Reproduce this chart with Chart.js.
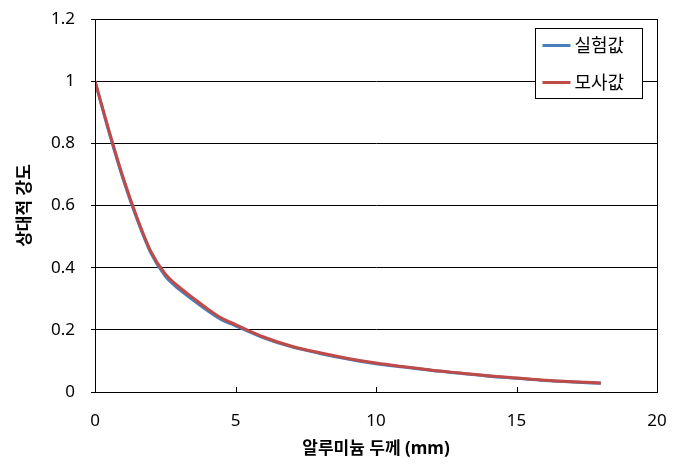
<!DOCTYPE html>
<html>
<head>
<meta charset="utf-8">
<script src="https://cdn.jsdelivr.net/npm/chart.js@4/dist/chart.umd.min.js"></script>
<style>
    body { margin: 0; background: #fff; }
    #wrap { width: 682px; height: 467px; }
</style>
</head>
<body>
<div id="wrap"><canvas id="chart_att"></canvas></div>
<script>
// 알루미늄 두께 (mm)
var thickness = [0, 0.5, 1, 1.5, 2, 2.5, 3, 3.5, 4, 4.5, 5, 6, 7, 8, 9, 10, 11, 12, 13, 14, 15, 16, 17, 18]
// 실험값
var measured = [1.0, 0.835, 0.685, 0.555, 0.445, 0.373, 0.33, 0.295, 0.262, 0.233, 0.213, 0.174, 0.145, 0.124, 0.106, 0.091, 0.08, 0.069, 0.06, 0.051, 0.044, 0.037, 0.032, 0.028]
// 모사값
var simulated = [1.0, 0.84, 0.69, 0.56, 0.45, 0.38, 0.337, 0.302, 0.268, 0.238, 0.217, 0.177, 0.147, 0.126, 0.108, 0.093, 0.081, 0.07, 0.061, 0.052, 0.045, 0.038, 0.033, 0.029]

var y_tick_labels = ['0', '0.2', '0.4', '0.6', '0.8', '1', '1.2']
var x_tick_labels = ['0', '5', '10', '15', '20']

var FONT = "'Noto Sans', 'Noto Sans CJK KR', sans-serif"

function to_points(xs, ys) {
    return xs.map((x, i) => {
        return { x: x, y: ys[i] }
    })
}

// plot frame, inward x ticks and the boxed legend
var frame_plugin = {
    id: 'frame',
    afterDraw: function (chart) {
        var ctx = chart.ctx
        var a = chart.chartArea
        var xs = chart.scales.x
        ctx.save()
        ctx.strokeStyle = '#000'
        ctx.lineWidth = 1
        ctx.strokeRect(Math.round(a.left) + 0.5, Math.round(a.top) + 0.5,
            Math.round(a.right - a.left), Math.round(a.bottom - a.top))
        xs.ticks.forEach((t) => {
            var px = Math.round(xs.getPixelForValue(t.value)) + 0.5
            ctx.beginPath()
            ctx.moveTo(px, a.bottom)
            ctx.lineTo(px, a.bottom - 5)
            ctx.stroke()
        })

        // legend
        var bw = 107, bh = 70
        var bx = Math.round(a.right - 15 - bw) + 0.5
        var by = Math.round(a.top + 9) + 0.5
        ctx.fillStyle = '#fff'
        ctx.fillRect(bx, by, bw, bh)
        ctx.strokeRect(bx, by, bw, bh)
        ctx.font = '18px ' + FONT
        ctx.textBaseline = 'middle'
        chart.data.datasets.forEach((ds, i) => {
            var ly = by + 17 + i * 37
            ctx.strokeStyle = ds.borderColor
            ctx.lineWidth = 3
            ctx.beginPath()
            ctx.moveTo(bx + 7, ly)
            ctx.lineTo(bx + 35, ly)
            ctx.stroke()
            ctx.fillStyle = '#000'
            ctx.fillText(ds.label, bx + 39, ly + 1)
        })
        ctx.restore()
    }
}

new Chart(document.getElementById('chart_att'), {
    type: 'scatter',
    data: {
        datasets: [
            {
                label: '실험값',
                data: to_points(thickness, measured),
                borderColor: '#4a7ebb',
                backgroundColor: '#4a7ebb',
                borderWidth: 3,
                showLine: true,
                pointRadius: 0,
                cubicInterpolationMode: 'monotone',
                order: 2
            },
            {
                label: '모사값',
                data: to_points(thickness, simulated),
                borderColor: '#be4b48',
                backgroundColor: '#be4b48',
                borderWidth: 3,
                showLine: true,
                pointRadius: 0,
                cubicInterpolationMode: 'monotone',
                order: 1
            }
        ]
    },
    options: {
        responsive: true,
        maintainAspectRatio: false,
        animation: false,
        layout: {
            padding: { top: 19, right: 25, left: 0, bottom: 0 }
        },
        plugins: {
            legend: { display: false },
            tooltip: { enabled: false }
        },
        scales: {
            x: {
                type: 'linear',
                min: 0,
                max: 20,
                afterFit: function (scale) {
                    scale.height = 75
                },
                grid: { display: false },
                border: { display: true, color: '#000', width: 1 },
                ticks: {
                    stepSize: 5,
                    padding: 11,
                    color: '#000',
                    font: { family: FONT, size: 17 },
                    callback: function (value, index) {
                        return x_tick_labels[index]
                    }
                },
                title: {
                    display: true,
                    text: '알루미늄 두께 (mm)',
                    color: '#000',
                    font: { family: FONT, size: 17, weight: 'bold' },
                    padding: { top: 0, bottom: 8 }
                }
            },
            y: {
                type: 'linear',
                min: 0,
                max: 1.2,
                afterFit: function (scale) {
                    scale.width = 95
                    scale.paddingTop = 0
                    scale.paddingBottom = 0
                },
                grid: {
                    color: '#000',
                    lineWidth: 1,
                    tickLength: 4,
                    drawTicks: true
                },
                border: { display: true, color: '#000', width: 1 },
                ticks: {
                    stepSize: 0.2,
                    padding: 16,
                    color: '#000',
                    font: { family: FONT, size: 17 },
                    callback: function (value, index) {
                        return y_tick_labels[index]
                    }
                },
                title: {
                    display: true,
                    text: '상대적 강도',
                    color: '#000',
                    font: { family: FONT, size: 17, weight: 'bold' },
                    padding: { top: 15, bottom: 0 }
                }
            }
        }
    },
    plugins: [frame_plugin]
})
</script>
</body>
</html>
